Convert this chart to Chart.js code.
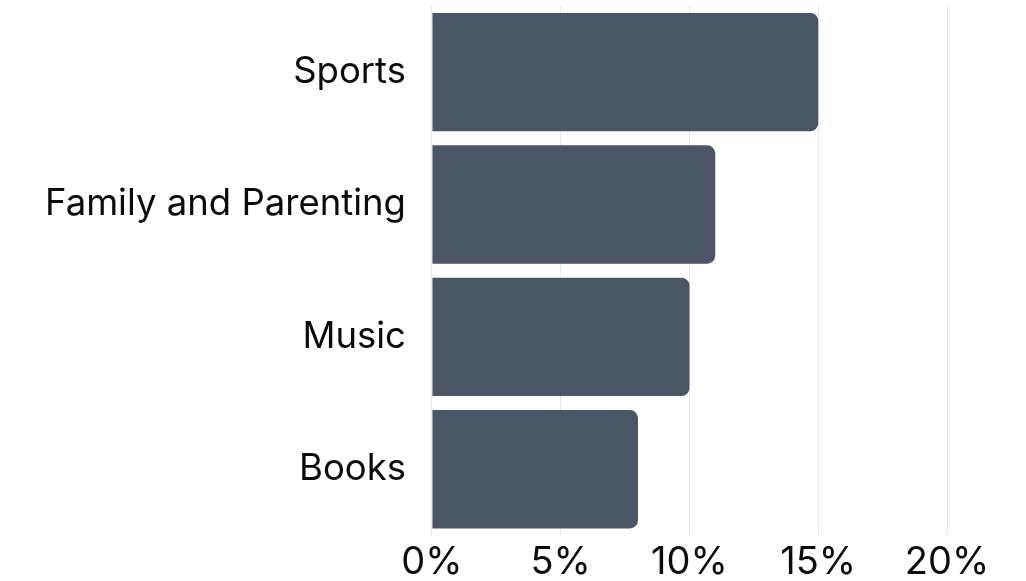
<!DOCTYPE html>
<html>
<head>
<meta charset="utf-8">
<script src="https://cdn.jsdelivr.net/npm/chart.js@4"></script>
<style>
  html, body { margin: 0; padding: 0; background: #fff; }
  #wrap { width: 1026px; height: 581px; }
</style>
</head>
<body>
<div id="wrap"><canvas id="chart" width="1026" height="581"></canvas></div>
<script>
const categories = ['Sports', 'Family and Parenting', 'Music', 'Books'];
const shares = [15, 11, 10, 8];
const xTicks = [0, 5, 10, 15, 20];

document.addEventListener('DOMContentLoaded', function() {
  new Chart(document.getElementById('chart'), {
    type: 'bar',
    data: {
      labels: categories,
      datasets: [{
        data: shares,
        backgroundColor: '#4a5565',
        borderRadius: { topRight: 8, bottomRight: 8 },
        borderSkipped: false,
        barPercentage: 1,
        categoryPercentage: 0.894
      }]
    },
    options: {
      indexAxis: 'y',
      responsive: false,
      animation: false,
      layout: { padding: { top: 6, right: 79, bottom: -8, left: 27 } },
      scales: {
        x: {
          min: 0,
          max: 20,
          afterBuildTicks: axis => { axis.ticks = xTicks.map(v => ({ value: v })); },
          afterFit: s => { s.paddingLeft = 0; s.paddingRight = 0; },
          border: { display: false },
          grid: { color: '#e5e7eb', lineWidth: 1, drawTicks: false },
          ticks: {
            color: '#0b0b0b',
            padding: 4,
            font: { family: 'Inter', size: 38 },
            callback: v => v + '%'
          }
        },
        y: {
          afterFit: s => { s.paddingTop = 0; s.paddingBottom = 0; },
          border: { display: true, color: '#e5e7eb' },
          grid: { display: false },
          ticks: {
            color: '#0b0b0b',
            padding: 18,
            font: { family: 'Inter', size: 36.5 }
          }
        }
      },
      plugins: {
        legend: { display: false },
        tooltip: { enabled: false }
      }
    }
  });
});
</script>
</body>
</html>
